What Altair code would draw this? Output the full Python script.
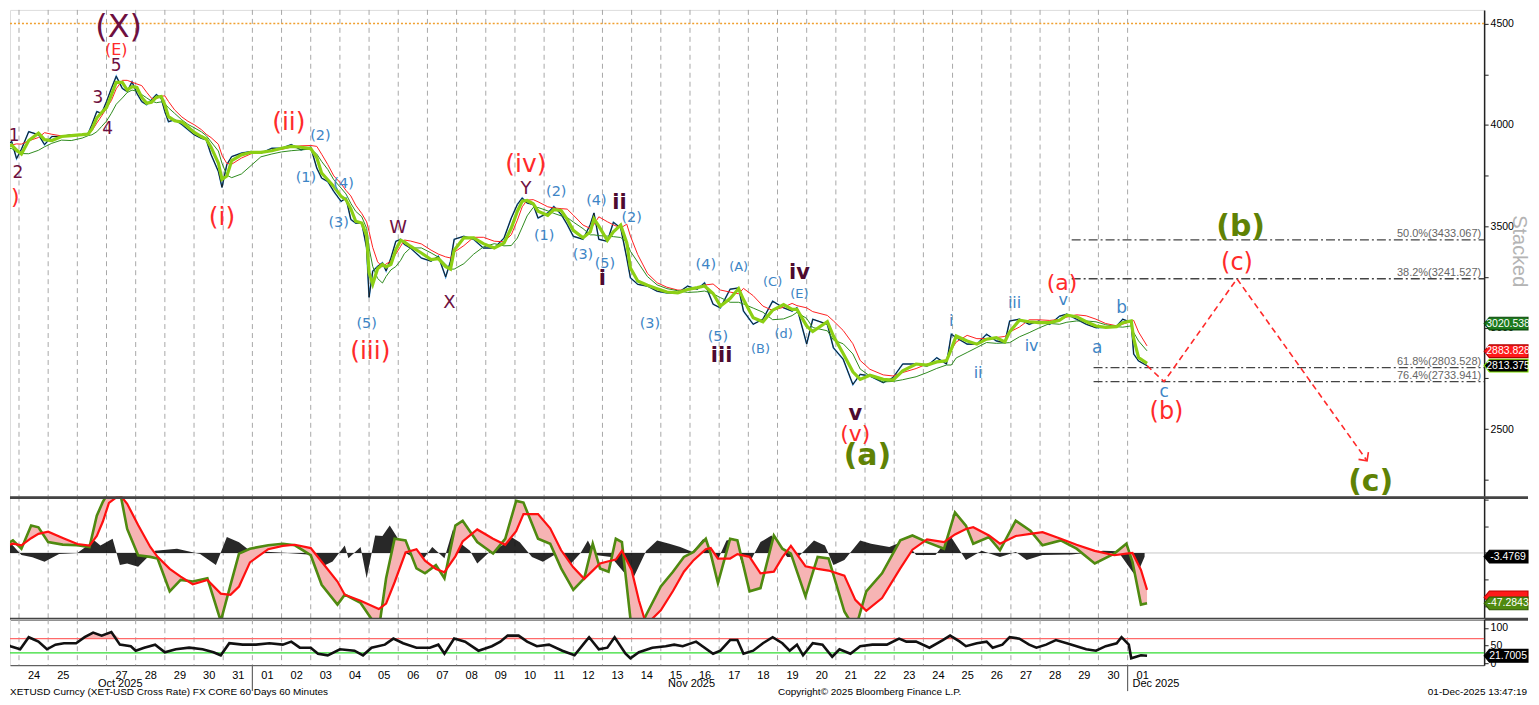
import altair as alt
import pandas as pd

# ---------------- data (hours since 24-Oct-2025 00:00) ----------------
price = [(-14,3884),(-6,3918),(-2,3834),(2,3880),(8,3967),(16,3952),(21,3903),(27,3943),(35,3943),
         (43,3952),(52,3952),(57,3959),(60,4002),(64,4066),(68,4057),(72,4115),(76,4180),(80,4240),
         (85,4180),(89,4164),(93,4213),(97,4156),(101,4115),(105,4100),(109,4124),(113,4150),(117,4131),
         (120,4066),(123,4016),(128,4026),(134,4002),(139,3977),(144,3952),(150,3934),(154,3927),
         (158,3854),(164,3771),(167,3692),(171,3805),(175,3844),(183,3861),(191,3869),(199,3861),
         (208,3885),(216,3885),(224,3903),(232,3877),(240,3890),(245,3787),(249,3738),(254,3721),
         (259,3672),(265,3623),(269,3639),(273,3534),(277,3516),(282,3516),(286,3393),(288,3150),
         (291,3279),(295,3303),(299,3320),(302,3280),(306,3344),(310,3426),(314,3436),(317,3411),
         (322,3393),(331,3344),(339,3328),(345,3352),(351,3250),(355,3328),(358,3436),(366,3451),
         (374,3436),(382,3393),(391,3393),(399,3442),(405,3541),(410,3608),(414,3640),(418,3615),
         (423,3608),(427,3541),(435,3566),(440,3598),(446,3559),(451,3509),(456,3451),(464,3436),
         (470,3509),(473,3566),(477,3436),(484,3426),(489,3520),(495,3492),(500,3344),(503,3246),
         (509,3214),(517,3205),(525,3180),(533,3172),(542,3172),(550,3205),(558,3190),(564,3221),
         (571,3116),(577,3098),(585,3190),(592,3196),(596,3082),(604,3017),(612,3042),(620,3131),
         (629,3098),(636,3082),(640,3098),(648,2920),(653,3042),(665,3017),(670,2901),(678,2845),
         (686,2720),(692,2770),(700,2762),(711,2729),(719,2754),(727,2821),(738,2821),(747,2811),
         (755,2852),(763,2821),(767,2968),(771,2951),(780,2919),(788,2919),(796,2968),(804,2935),
         (811,2926),(815,3033),(823,3042),(831,3017),(839,3033),(848,3017),(856,3057),(862,3067),
         (870,3042),(878,3017),(886,3000),(894,3003),(903,3008),(908,3042),(915,3025),(917,2870),
         (921,2836),(928,2813)]

osc_line = [(-14,5.6),(-5,11.8),(2,4),(10,25.7),(16,24.1),(24,10.2),(36,7.8),(48,7.2),(58,5.6),
            (64,35),(69,48),(74,58),(83,58),(89,22.6),(98,-2.1),(108,-3.7),(114,-5.2),(124,-36),
            (133,-25.3),(143,-26.8),(155,-23.8),(166,-64),(174,-29.9),(181,-0.6),(190,4),(205,7.2),
            (217,8.7),(227,7.2),(240,-2.1),(249,-29.9),(262,-48.5),(268,-39.2),(281,-46.9),(296,-72),
            (302,-23.8),(309,13.3),(318,11.8),(327,-14.5),(334,-19.1),(343,-11.4),(350,-23.8),
            (359,25.7),(365,30.3),(377,10.2),(390,-0.6),(400,13.3),(409,48.9),(415,47.3),(427,13.3),
            (437,8.7),(446,-14.5),(456,-34.6),(465,-23.8),(472,8.7),(478,-14.5),(485,-17.6),(491,13.3),
            (496,10.2),(504,-72),(510,-72),(516,-58),(528,-31.5),(538,-17.6),(547,-3.7),(555,1),
            (565,13.3),(569,-0.6),(575,-28.4),(585,13.3),(591,11.8),(601,-36),(610,-33),(621,16.4),
            (628,4),(635,-0.6),(647,-40.7),(657,-3.7),(666,-5.2),(679,-55),(688,-72),(697,-36),
            (710,-19.1),(725,11.8),(735,16.4),(747,10.2),(761,4),(770,38),(779,25.7),(785,8.7),
            (798,14.9),(807,2.5),(820,30.3),(832,21),(842,7.2),(857,11.8),(870,4),(885,-9.8),
            (901,-0.6),(911,8.7),(916,-8.3),(923,-48.5),(928,-47.3)]

osc_hist = [(-14,14.9),(-5,7),(2,-2),(11,-4),(21,-8.3),(33,-1),(48,0),(62,11.8),(67,7),(77,13.3),
            (83,-11.4),(89,-9.8),(98,-13),(105,-5),(112,2),(130,4),(149,-1),(162,-11.4),(171,14.9),
            (181,10),(190,2),(221,0),(243,-2),(249,-13),(258,-8),(268,7),(271,-5),(281,5.6),
            (286,-23.8),(293,16.4),(299,16),(305,25.7),(312,13),(318,0),(324,-3.7),(331,-8),
            (340,5.6),(350,-5),(357,22),(362,10),(371,2),(377,-9.8),(387,1),(400,8.7),(405,14.9),
            (412,10),(422,-3.7),(431,-8.3),(443,0),(453,-11.4),(462,0),(468,11.8),(474,-2),
            (487,-3.7),(504,-26.8),(516,2),(525,11.8),(535,8.7),(544,5.6),(554,1),(563,13.3),
            (573,-11.4),(582,11.8),(588,13.3),(597,-17.6),(610,10.2),(619,16.4),(632,-3.7),
            (641,-3.7),(654,11.8),(663,7),(670,-11.4),(679,-6.7),(692,11.8),(701,8.7),(716,5.6),
            (729,11.8),(738,-2),(754,-2),(766,16.4),(779,-6.7),(792,2),(807,-3.7),(820,1),
            (829,-6.7),(842,-2),(866,-1.5),(892,2),(904,1.5),(916,-17.6),(919,-22),(926,-3.5)]

rsi = [(-14,61.5),(-7,48.7),(1,40),(8,74),(16,61.5),(23,40),(30,53),(37,57),(47,57),(54,74),
       (61,87),(68,78.5),(76,88.7),(83,53),(92,48.7),(96,36),(103,44.5),(112,53),(120,31.7),
       (129,40),(140,44.5),(151,40),(160,31.7),(166,23),(173,57),(184,53),(195,53),(206,57),
       (217,53),(224,61.5),(231,44.5),(240,44.5),(246,27.5),(254,23),(264,40),(276,36),(283,23),
       (290,44.5),(301,53),(308,70),(316,57),(327,44.5),(338,44.5),(345,53),(350,27.5),(358,70),
       (367,61.5),(378,36),(389,48.7),(396,61.5),(402,78.5),(411,78.5),(418,61.5),(426,48.7),
       (436,53),(447,36),(457,23),(466,61.5),(469,74),(477,40),(484,44.5),(490,74),(499,27.5),
       (503,14.7),(510,31.7),(521,44.5),(532,48.7),(539,53),(546,48.7),(557,61.5),(571,27.5),
       (577,36),(585,66),(591,66),(596,27.5),(604,36),(612,57),(620,74),(628,57),(634,36),
       (640,53),(645,23),(653,57),(661,53),(669,19),(675,40),(684,27.5),(692,48.7),(702,53),
       (714,53),(724,70),(730,61.5),(738,61.5),(749,44.5),(760,66),(766,78.5),(774,61.5),
       (779,48.7),(788,57),(796,61.5),(801,44.5),(809,53),(815,74),(823,70),(831,53),(837,44.5),
       (845,53),(853,66),(862,57),(870,48.7),(878,40),(886,36),(894,48.7),(903,57),(907,74),
       (913,53),(915,14.7),(923,23),(928,21.7)]

day_starts = list(range(0, 913, 24))
day_label_hours = [12 + 24 * k for k in range(39) if k != 2]
month_labels = [("Oct 2025", 65), ("Nov 2025", 534), ("Dec 2025", 916)]
month_breaks = [192, 912]

fib_levels = [("50.0%(3433.067)", 3433.067, 866), ("38.2%(3241.527)", 3241.527, 866),
              ("61.8%(2803.528)", 2803.528, 884), ("76.4%(2733.941)", 2733.941, 884)]
projection = [(928, 2813), (942, 2734), (1002, 3241), (1109, 2344)]
projection_end = [(1109, 2344)]

maroon_labels = [("(X)", 82, 4484, 32), ("5", 80, 4292, 17), ("3", 65, 4135, 17), ("4", 73, 3982, 17),
                 ("1", -4, 3943, 17), ("2", -1, 3761, 17), ("W", 312, 3490, 18),
                 ("X", 354, 3121, 18), ("Y", 417, 3682, 18)]
maroon_bold = [("i", 480, 3239), ("ii", 494, 3613), ("iii", 578, 2861), ("iv", 642, 3269), ("v", 688, 2572)]
red_labels = [("(E)", 80, 4371, 16), ("(ii)", 222, 4016, 25), ("(i)", 167, 3544, 25),
              ("(iii)", 289, 2885, 25), ("(iv)", 417, 3805, 25), ("(v)", 688, 2474, 22),
              ("(a)", 858, 3222, 22), ("(c)", 1002, 3318, 24), ("(b)", 944, 2583, 24),
              (")", -3, 3647, 22)]
blue_labels = [("(2)", 248, 3947, 14.5), ("(1)", 236, 3736, 14.5), ("(4)", 267, 3711, 14.5),
               ("(3)", 263, 3514, 14.5), ("(5)", 286, 3018, 14.5), ("(2)", 442, 3667, 14.5),
               ("(1)", 432, 3451, 14.5), ("(3)", 464, 3357, 14.5), ("(4)", 475, 3623, 14.5),
               ("(5)", 482, 3315, 14.5), ("(2)", 504, 3539, 14.5), ("(3)", 519, 3018, 14.5),
               ("(4)", 565, 3308, 14.5), ("(A)", 592, 3298, 13), ("(5)", 575, 2954, 14.5),
               ("(B)", 610, 2895, 13), ("(C)", 620, 3225, 13), ("(d)", 629, 2969, 13),
               ("(E)", 642, 3166, 13), ("i", 767, 3033, 16), ("ii", 789, 2779, 16),
               ("iii", 819, 3121, 16), ("iv", 833, 2910, 16), ("v", 859, 3135, 16),
               ("a", 887, 2900, 17), ("b", 907, 3097, 17), ("c", 942, 2684, 17)]
olive_labels = [("(a)", 698, 2366), ("(b)", 1005, 3499), ("(c)", 1112, 2241)]

main_tags = [("3020.538", 3020.538, "#1d7a1d", "#0b4a0b"), ("2883.828", 2883.828, "#ff1a1a", "#b00000"),
             ("2813.375", 2813.375, "#000000", "#7ee000")]
osc_tags = [("-3.4769", -3.4769, "#000000", "#000000"), ("", -41.7, "#ff1a1a", "#c00000"),
            ("-47.2843", -47.2843, "#4f8a10", "#2f5a00")]
rsi_tags = [("21.7005", 21.7005, "#000000", "#000000")]

# ---------------- layout constants ----------------
W, H1, H2, H3 = 1478, 488, 123, 46
RIGHT = 1522
X_DOM = [-7.4, 1205.3]
FONT = "Liberation Sans"
ELL = "DejaVu Sans"
TAG = "M -1 0 L -0.76 -0.29 L 1 -0.29 L 1 0.29 L -0.76 0.29 Z"
TAG_R = (RIGHT - W) / 2.0
TAG_C = W + TAG_R

xs = alt.Scale(domain=X_DOM, nice=False, zero=False)
sc_main = alt.Scale(domain=[2167, 4567.4], nice=False, zero=False)
sc_osc = alt.Scale(domain=[-62.3, 52.9], nice=False, zero=False)
sc_rsi = alt.Scale(domain=[-4.8, 124.4], nice=False, zero=False)

ax_main = alt.Axis(orient="right", values=[2250, 2500, 2750, 3000, 3250, 3500, 3750, 4000, 4250, 4500],
                   labelExpr="datum.value % 500 == 0 ? datum.label : ''", format="d", grid=False,
                   tickSize=4, tickColor="#222", domainColor="#222", domainWidth=1.5, labelFont=FONT,
                   labelFontSize=10.5, labelColor="#000", labelPadding=2, title=None)
ax_osc = alt.Axis(orient="right", values=[50, 25, 0, -25, -50], labels=False, grid=False, tickSize=4,
                  tickColor="#222", domainColor="#222", domainWidth=1.5, title=None)
ax_rsi = alt.Axis(orient="right", values=[0, 50, 100], format="d", grid=False, tickSize=4,
                  tickColor="#222", domainColor="#222", domainWidth=1.5, labelFont=FONT,
                  labelFontSize=10.5, labelColor="#000", labelPadding=2, title=None)
ax_x = alt.Axis(values=day_label_hours, labelExpr="utcFormat(utc(2025, 9, 24) + datum.value * 3600000, '%d')",
                ticks=False, grid=False, domain=True, domainColor="#444", labelFont=FONT, labelFontSize=11,
                labelColor="#000", labelPadding=4, labelOverlap=False, labelFlush=False, title=None)


def xm(f):
    return alt.X(f, type="quantitative", scale=xs, axis=None, title=None)


def xr(f):
    return alt.X(f, type="quantitative", scale=xs, axis=ax_x, title=None)


def ym(f):
    return alt.Y(f, type="quantitative", scale=sc_main, axis=ax_main, title=None)


def yo(f):
    return alt.Y(f, type="quantitative", scale=sc_osc, axis=ax_osc, title=None)


def yr(f):
    return alt.Y(f, type="quantitative", scale=sc_rsi, axis=ax_rsi, title=None)


price_df = pd.DataFrame(price, columns=["h", "v"])
osc_df = pd.DataFrame(osc_line, columns=["h", "g"])
hist_df = pd.DataFrame(osc_hist, columns=["h", "hv"])
rsi_df = pd.DataFrame(rsi, columns=["h", "r"])
days_df = pd.DataFrame({"h": day_starts})
one = pd.DataFrame({"a": [0]})


def grid(xfun):
    return alt.Chart(days_df).mark_rule(color="#a8a8a8", strokeDash=[5, 4], strokeWidth=1).encode(x=xfun("h"))


def label_layer(rows, color, yfun, weight="normal", size=None):
    df = pd.DataFrame(rows, columns=["t", "h", "v", "fs"] if size is None else ["t", "h", "v"])
    if size is not None:
        df["fs"] = size
    return alt.Chart(df).mark_text(color=color, font=ELL, fontWeight=weight, baseline="middle",
                                   align="center", clip=True).encode(
        x=xm("h"), y=yfun("v"), text="t:N", size=alt.Size("fs:Q", scale=None))


def tags(rows, yfun):
    df = pd.DataFrame(rows, columns=["t", "v", "fill", "stroke"])
    box = alt.Chart(df).mark_point(shape=TAG, size=(2 * TAG_R) ** 2, filled=True, opacity=1,
                                   strokeWidth=1.1).encode(
        x=alt.value(TAG_C), y=yfun("v"), fill=alt.Fill("fill:N", scale=None),
        stroke=alt.Stroke("stroke:N", scale=None))
    txt = alt.Chart(df).mark_text(color="white", font=FONT, fontSize=10.5, align="center",
                                  baseline="middle").encode(x=alt.value(TAG_C + 2), y=yfun("v"), text="t:N")
    return [box, txt]


# ---------------- main panel ----------------
srt = [alt.SortField("h")]
base = alt.Chart(price_df).transform_window(
    fast="mean(v)", frame=[-1, 0], sort=srt
).transform_window(
    hi="max(v)", frame=[-1, 0], sort=srt
).transform_window(
    lo="min(v)", frame=[-1, 0], sort=srt
).transform_window(
    red="mean(hi)", frame=[-2, 0], sort=srt
).transform_window(
    grn="mean(lo)", frame=[-3, 0], sort=srt
)

level_df = pd.DataFrame({"v": [4500]})
fib_df = pd.DataFrame(fib_levels, columns=["t", "v", "h"])
proj_df = pd.DataFrame(projection, columns=["h", "v"])
proj_end_df = pd.DataFrame(projection_end, columns=["h", "v"])

main_layers = [
    grid(xm),
    alt.Chart(level_df).mark_rule(color="#f0a030", strokeDash=[2, 2], strokeWidth=1.5).encode(y=ym("v")),
    alt.Chart(fib_df).mark_rule(color="#444", strokeDash=[9, 3, 2, 3], strokeWidth=1.3).encode(
        x=xm("h"), x2=alt.value(W), y=ym("v")),
    alt.Chart(fib_df).mark_text(color="#666", font=FONT, fontSize=11, align="right", baseline="bottom",
                                dy=-1).encode(x=alt.value(W - 3), y=ym("v"), text="t:N"),
    base.mark_line(color="#2f8fdf", strokeWidth=1.6, clip=True).encode(x=xm("h"), y=ym("v")),
    base.mark_line(color="#1a1a1a", strokeWidth=1, clip=True).encode(x=xm("h"), y=ym("v")),
    base.mark_line(color="#ff2020", strokeWidth=1, clip=True).encode(x=xm("h"), y=ym("red")),
    base.mark_line(color="#2e8b1e", strokeWidth=1, clip=True).encode(x=xm("h"), y=ym("grn")),
    base.mark_line(color="#8ccf14", strokeWidth=3.2, clip=True).encode(x=xm("h"), y=ym("fast")),
    alt.Chart(proj_df).mark_line(color="#ff2a2a", strokeDash=[6, 4], strokeWidth=1.6).encode(
        x=xm("h"), y=ym("v")),
    alt.Chart(proj_end_df).mark_point(shape="M -1 -1 L 0 0 L 1 -1", size=150, filled=False, angle=324,
                                      color="#ff2a2a", strokeWidth=1.6, opacity=1).encode(
        x=xm("h"), y=ym("v")),
    label_layer(maroon_labels, "#6e1040", ym),
    label_layer(maroon_bold, "#4d0a30", ym, weight="bold", size=21),
    label_layer(red_labels, "#ff2a2a", ym),
    label_layer(blue_labels, "#3d85c6", ym),
    label_layer(olive_labels, "#5f8205", ym, weight="bold", size=30),
    alt.Chart(one).mark_text(angle=90, fontSize=20, color="#b4b4b4", font=FONT, align="center",
                             baseline="alphabetic").encode(x=alt.value(W + 29), y=alt.value(242),
                                                           text=alt.value("Stacked")),
] + tags(main_tags, ym)

main = alt.layer(*main_layers).properties(width=W, height=H1)

# ---------------- oscillator panel ----------------
osc_base = alt.Chart(osc_df).transform_window(rd="mean(g)", frame=[-2, 0], sort=srt)
zero_df = pd.DataFrame({"z": [0]})

osc_layers = [
    grid(xm),
    alt.Chart(zero_df).mark_rule(color="#c8c8c8", strokeWidth=1).encode(y=yo("z")),
    alt.Chart(hist_df).mark_area(color="#111", opacity=0.9, clip=True).encode(
        x=xm("h"), y=yo("hv"), y2=alt.datum(0)),
    osc_base.mark_area(color="#f6b4b4", clip=True).encode(x=xm("h"), y=yo("g"), y2=alt.Y2("rd")),
    osc_base.mark_line(color="#4f8a10", strokeWidth=2.6, clip=True).encode(x=xm("h"), y=yo("g")),
    osc_base.mark_line(color="#ff1010", strokeWidth=2.2, clip=True).encode(x=xm("h"), y=yo("rd")),
    alt.Chart(one).mark_rule(color="#444", strokeWidth=3).encode(
        x=alt.value(0), x2=alt.value(RIGHT), y=alt.value(1)),
    alt.Chart(one).mark_rule(color="#444", strokeWidth=3).encode(
        x=alt.value(0), x2=alt.value(RIGHT), y=alt.value(H2)),
] + tags(osc_tags, yo)

osc = alt.layer(*osc_layers).properties(width=W, height=H2)

# ---------------- RSI panel ----------------
lv_df = pd.DataFrame({"lv": [70]})
lg_df = pd.DataFrame({"lv": [30]})
months_df = pd.DataFrame(month_labels, columns=["t", "h"])
breaks_df = pd.DataFrame({"h": month_breaks})

rsi_layers = [
    grid(xr),
    alt.Chart(rsi_df).transform_calculate(top="max(datum.r, 70)").mark_area(color="#f7b8b8", clip=True).encode(
        x=xr("h"), y=yr("top"), y2=alt.datum(70)),
    alt.Chart(lv_df).mark_rule(color="#ff6a6a", strokeWidth=1.2).encode(y=yr("lv")),
    alt.Chart(lg_df).mark_rule(color="#33dd33", strokeWidth=1.2).encode(y=yr("lv")),
    alt.Chart(rsi_df).mark_line(color="#111", strokeWidth=2.6, clip=True).encode(x=xr("h"), y=yr("r")),
    alt.Chart(breaks_df).mark_rule(color="#666", strokeWidth=1.2).encode(
        x=xr("h"), y=alt.value(H3), y2=alt.value(H3 + 26)),
    alt.Chart(months_df).mark_text(font=FONT, fontSize=11, align="left", baseline="alphabetic",
                                   color="#000").encode(x=xr("h"), y=alt.value(H3 + 22), text="t:N"),
    alt.Chart(one).mark_text(font=FONT, fontSize=10, align="left", baseline="alphabetic", color="#000").encode(
        x=alt.value(0), y=alt.value(H3 + 30),
        text=alt.value("XETUSD Curncy (XET-USD Cross Rate) FX CORE 60 Days 60 Minutes")),
    alt.Chart(one).mark_text(font=FONT, fontSize=10, align="left", baseline="alphabetic", color="#000").encode(
        x=alt.value(770), y=alt.value(H3 + 30), text=alt.value("Copyright\u00a9 2025 Bloomberg Finance L.P.")),
    alt.Chart(one).mark_text(font=FONT, fontSize=10, align="right", baseline="alphabetic", color="#000").encode(
        x=alt.value(RIGHT - 1), y=alt.value(H3 + 30), text=alt.value("01-Dec-2025 13:47:19")),
] + tags(rsi_tags, yr)

rsi_chart = alt.layer(*rsi_layers).properties(width=W, height=H3)

chart = alt.vconcat(main, osc, rsi_chart, spacing=0, bounds="flush").properties(
    padding={"left": 0, "top": 0, "right": 0, "bottom": 0}
).configure_view(stroke=None).configure(background="white")

chart.save("out.html", embed_options={"renderer": "svg", "actions": False})
